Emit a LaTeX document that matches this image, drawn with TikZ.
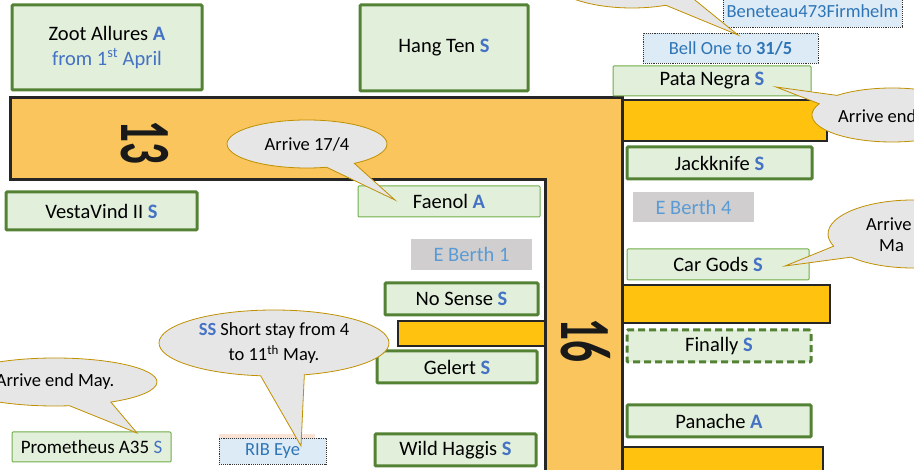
\documentclass[tikz,border=0pt]{standalone}
\usepackage{fontspec}
\setmainfont{Carlito}
\usepackage{graphicx}
\usetikzlibrary{shapes.callouts,calc}
\definecolor{pier}{RGB}{249,197,92}
\definecolor{stub}{RGB}{255,194,14}
\definecolor{gfill}{RGB}{226,239,218}
\definecolor{gdark}{RGB}{84,130,53}
\definecolor{glight}{RGB}{112,173,71}
\definecolor{accent}{RGB}{68,114,196}
\definecolor{berthtxt}{RGB}{91,155,213}
\definecolor{berthgrey}{RGB}{208,206,206}
\definecolor{bfill}{RGB}{221,235,247}
\definecolor{btxt}{RGB}{46,117,182}
\definecolor{cfill}{RGB}{231,230,230}
\definecolor{cline}{RGB}{191,144,0}
\definecolor{pink}{RGB}{250,226,212}
\newcommand{\markS}{\textcolor{accent}{\textbf{S}}}
\newcommand{\markA}{\textcolor{accent}{\textbf{A}}}
\tikzset{
  sz/.style 2 args={minimum width=#1pt, minimum height=#2pt},
  box/.style={rectangle, inner sep=0pt, outer sep=0pt, rounded corners=1pt, fill=gfill, align=center},
  thickbox/.style={box, draw=gdark, line width=3pt},
  thinbox/.style={box, draw=glight, line width=1pt},
  dashbox/.style={box, draw=gdark, line width=3pt, dash pattern=on 7pt off 4pt},
  bluebox/.style={rectangle, inner sep=0pt, fill=bfill, draw=black!80, densely dotted, line width=0.9pt, text=btxt, font=\fontsize{18.5}{22}\selectfont},
  berth/.style={rectangle, inner sep=0pt, fill=berthgrey, text=berthtxt},
  bubble/.style={ellipse callout, fill=cfill, draw=cline, line width=0.8pt, inner sep=0pt, callout pointer arc=22, align=center, font=\fontsize{18.5}{25}\selectfont},
  bubbletext/.style={inner sep=0pt, anchor=west, font=\fontsize{18.5}{22}\selectfont},
  stubbox/.style={fill=stub, draw=black!85, line width=1.5pt},
  piernum/.style={inner sep=0pt, rotate=-90, font=\fontsize{72}{72}\selectfont\bfseries, text=black!90}
}
\begin{document}
\begin{tikzpicture}[x=1pt,y=-1pt,font=\fontsize{20.5}{25}\selectfont]
\useasboundingbox (0,0) rectangle (914,470);
% stubs
\draw[stubbox] (615,100) rectangle (827,141);
\draw[stubbox] (615,285) rectangle (830,323);
\draw[stubbox] (615,447) rectangle (823,480);
\draw[stubbox] (398,321) rectangle (550,346);
% pier
\fill[pier] (10,98) -- (622,98) -- (622,480) -- (545,480) -- (545,180) -- (10,180) -- cycle;
\draw[line width=3pt, black!85] (545,480) -- (545,180) -- (10,180) -- (10,98) -- (622,98) -- (622,480);
\node[piernum] (n13) at (145,142) {\scalebox{0.6}[1]{13}};
\node[piernum] (n16) at (586,340) {\scalebox{0.6}[1]{16}};
% green boxes
\node[thickbox, sz={190}{85}] (zoot) at (107,47.5) {Zoot Allures \markA\\\textcolor{accent}{from 1\textsuperscript{st} April}};
\node[thickbox, sz={168}{86}] (hangten) at (444,48) {Hang Ten \markS};
\node[thickbox, sz={191}{38}] (vesta) at (101.5,211) {VestaVind II \markS};
\node[thinbox, sz={182}{31}] (faenol) at (449,201.5) {Faenol \markA};
\node[thinbox, sz={198}{30}] (pata) at (712,81) {Pata Negra \markS};
\node[thickbox, sz={185}{32}] (jack) at (719.5,163) {Jackknife \markS};
\node[berth, sz={121}{30}] (eb4) at (693.5,207) {E Berth 4};
\node[berth, sz={121}{31}] (eb1) at (471.5,254.5) {E Berth 1};
\node[thickbox, sz={153}{32}] (nosense) at (461.5,299) {No Sense \markS};
\node[thickbox, sz={160}{32}] (gelert) at (457,367) {Gelert \markS};
\node[thickbox, sz={161}{32}] (haggis) at (455.5,450) {Wild Haggis \markS};
\node[thinbox, sz={182}{31}] (cargods) at (718,264.5) {Car Gods \markS};
\node[dashbox, sz={184}{32}] (finally) at (719,346) {Finally \markS};
\node[thickbox, sz={184}{32}] (panache) at (719,421) {Panache \markA};
\node[thinbox, sz={159}{30}, font=\fontsize{19}{22}\selectfont] (prom) at (91.5,447) {Prometheus A35 \textcolor{accent}{S}};
% blue boxes
\fill[pink] (219,434) rectangle (315,438);
\node[bluebox, sz={107}{26}] (rib) at (272.5,451) {RIB Eye};
\node[bluebox, sz={175}{30}] (bell) at (730.5,48) {Bell One to \textbf{31/5}};
\node[bluebox, sz={179}{32}] (bene) at (812.5,11) {Beneteau473Firmhelm};
% callouts
\node[bubble, sz={160}{48}, callout absolute pointer={(395,200)}] (c1) at (307,144) {Arrive 17/4};
\node[bubble, sz={170}{66}, callout absolute pointer={(738,35)}] (c2) at (632,-25) {};
\node[bubble, sz={160}{54}, callout absolute pointer={(776,87)}] (c3) at (892,115) {};
\node[bubbletext] (c3t) at (838,116) {Arrive end};
\node[bubble, sz={170}{68}, callout absolute pointer={(785,266)}] (c4) at (913,234) {};
\node[bubbletext] (c4a) at (866,224) {Arrive};
\node[bubbletext] (c4b) at (879,246) {Ma};
\node[bubble, sz={204}{48}, callout pointer arc=25, callout absolute pointer={(137,433)}] (c5) at (55,382) {Arrive end May.};
\node[bubble, sz={230}{66}, callout absolute pointer={(301,446)}] (c6) at (274,343) {\textcolor{accent}{\textbf{SS}} Short stay from 4\\to 11\textsuperscript{th} May.};
\end{tikzpicture}
\end{document}
